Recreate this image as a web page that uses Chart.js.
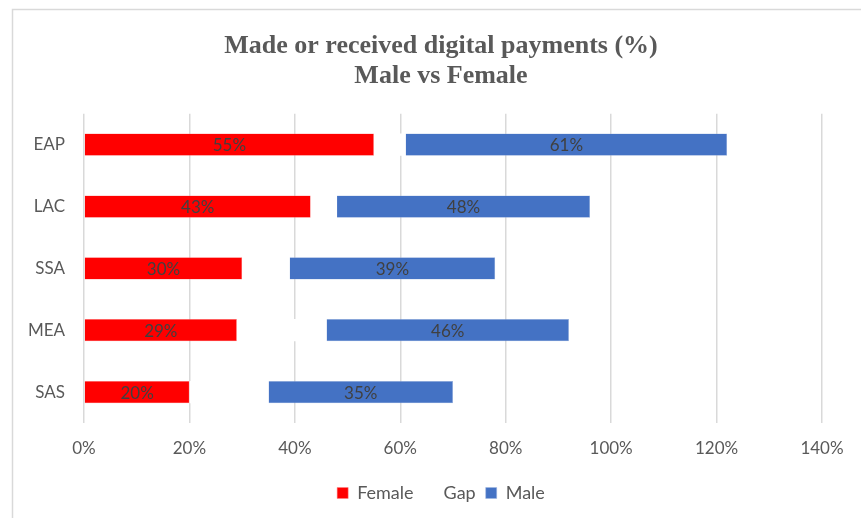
<!DOCTYPE html>
<html>
<head>
<meta charset="utf-8">
<script src="https://cdn.jsdelivr.net/npm/chart.js@4/dist/chart.umd.min.js"></script>
<style>
  html, body { margin: 0; padding: 0; background: #fff; }
  #wrap { width: 861px; height: 518px; position: relative; }
</style>
</head>
<body>
<div id="wrap"><canvas id="payChart" width="861" height="518"></canvas></div>
<script>
// data (percent)
var regions = ["EAP", "LAC", "SSA", "MEA", "SAS"];
var femaleVals = [55, 43, 30, 29, 20];
var gapVals = [6, 5, 9, 17, 15];   // white spacer between the two bars
var maleVals = [61, 48, 39, 46, 35];
var xTicks = [0, 20, 40, 60, 80, 100, 120, 140];

var labelFont = "Lato, 'Open Sans', sans-serif";
var tickSize = 17;

// widest region label, so the mirrored labels can sit right-aligned left of the axis
var mctx = document.createElement("canvas").getContext("2d");
mctx.font = tickSize + "px " + labelFont;
var widest = 0;
regions.forEach(function (r) { widest = Math.max(widest, mctx.measureText(r).width); });

// grey frame round the chart like the source picture
var framePlugin = {
  id: "frame",
  beforeDraw: function (chart) {
    var ctx = chart.ctx;
    ctx.save();
    ctx.fillStyle = "#ffffff";
    ctx.fillRect(0, 0, chart.width, chart.height);
    ctx.strokeStyle = "#d9d9d9";
    ctx.lineWidth = 1.5;
    ctx.strokeRect(12.5, 9.5, chart.width + 20, chart.height + 20);
    ctx.restore();
  }
};

// value labels in the middle of the female and male bars
var valueLabels = {
  id: "valueLabels",
  afterDatasetsDraw: function (chart) {
    var ctx = chart.ctx;
    ctx.save();
    ctx.font = tickSize + "px " + labelFont;
    ctx.fillStyle = "#404040";
    ctx.textAlign = "center";
    ctx.textBaseline = "middle";
    [0, 2].forEach(function (di) {
      var meta = chart.getDatasetMeta(di);
      var vals = chart.data.datasets[di].data;
      meta.data.forEach(function (bar, i) {
        var p = bar.getProps(["x", "y", "base"], true);
        ctx.fillText(vals[i] + "%", (p.x + p.base) / 2, p.y + 1);
      });
    });
    ctx.restore();
  }
};

new Chart("payChart", {
  type: "bar",
  data: {
    labels: regions,
    datasets: [
      { label: "Female", data: femaleVals, backgroundColor: "#ff0000", borderColor: "#ff8080", borderWidth: 0.5 },
      { label: "Gap", data: gapVals, backgroundColor: "#ffffff" },
      { label: "Male", data: maleVals, backgroundColor: "#4472c4", borderColor: "#9fb6e0", borderWidth: 0.5 }
    ]
  },
  plugins: [framePlugin, valueLabels],
  options: {
    indexAxis: "y",
    responsive: false,
    animation: false,
    datasets: { bar: { categoryPercentage: 1, barPercentage: 0.36 } },
    layout: { padding: { left: 60, right: 39, top: 0, bottom: 6 } },
    scales: {
      x: {
        stacked: true,
        min: 0,
        max: 140,
        afterBuildTicks: function (scale) {
          scale.ticks = xTicks.map(function (v) { return { value: v }; });
        },
        afterFit: function (scale) { scale.height = 51; },
        ticks: {
          callback: function (v) { return v + "%"; },
          color: "#595959",
          font: { family: labelFont, size: tickSize },
          padding: 15
        },
        grid: { color: "#d9d9d9", lineWidth: 1.5, drawTicks: false },
        border: { display: false }
      },
      y: {
        stacked: true,
        afterFit: function (scale) { scale.width = 24; },
        ticks: {
          mirror: true,
          crossAlign: "far",
          color: "#595959",
          font: { family: labelFont, size: tickSize },
          padding: -19 - widest
        },
        grid: { display: false, drawTicks: false },
        border: { display: false }
      }
    },
    plugins: {
      title: {
        display: true,
        text: ["Made or received digital payments (%)", "Male vs Female"],
        color: "#595959",
        font: { family: "'Liberation Serif', 'Times New Roman', serif", size: 26, weight: "bold", lineHeight: 1.15 },
        padding: { top: 31, bottom: 23 }
      },
      legend: {
        position: "bottom",
        labels: {
          boxWidth: 11,
          boxHeight: 11,
          padding: 10,
          color: "#595959",
          font: { family: labelFont, size: 18 }
        }
      },
      tooltip: { enabled: false }
    }
  }
});
</script>
</body>
</html>
